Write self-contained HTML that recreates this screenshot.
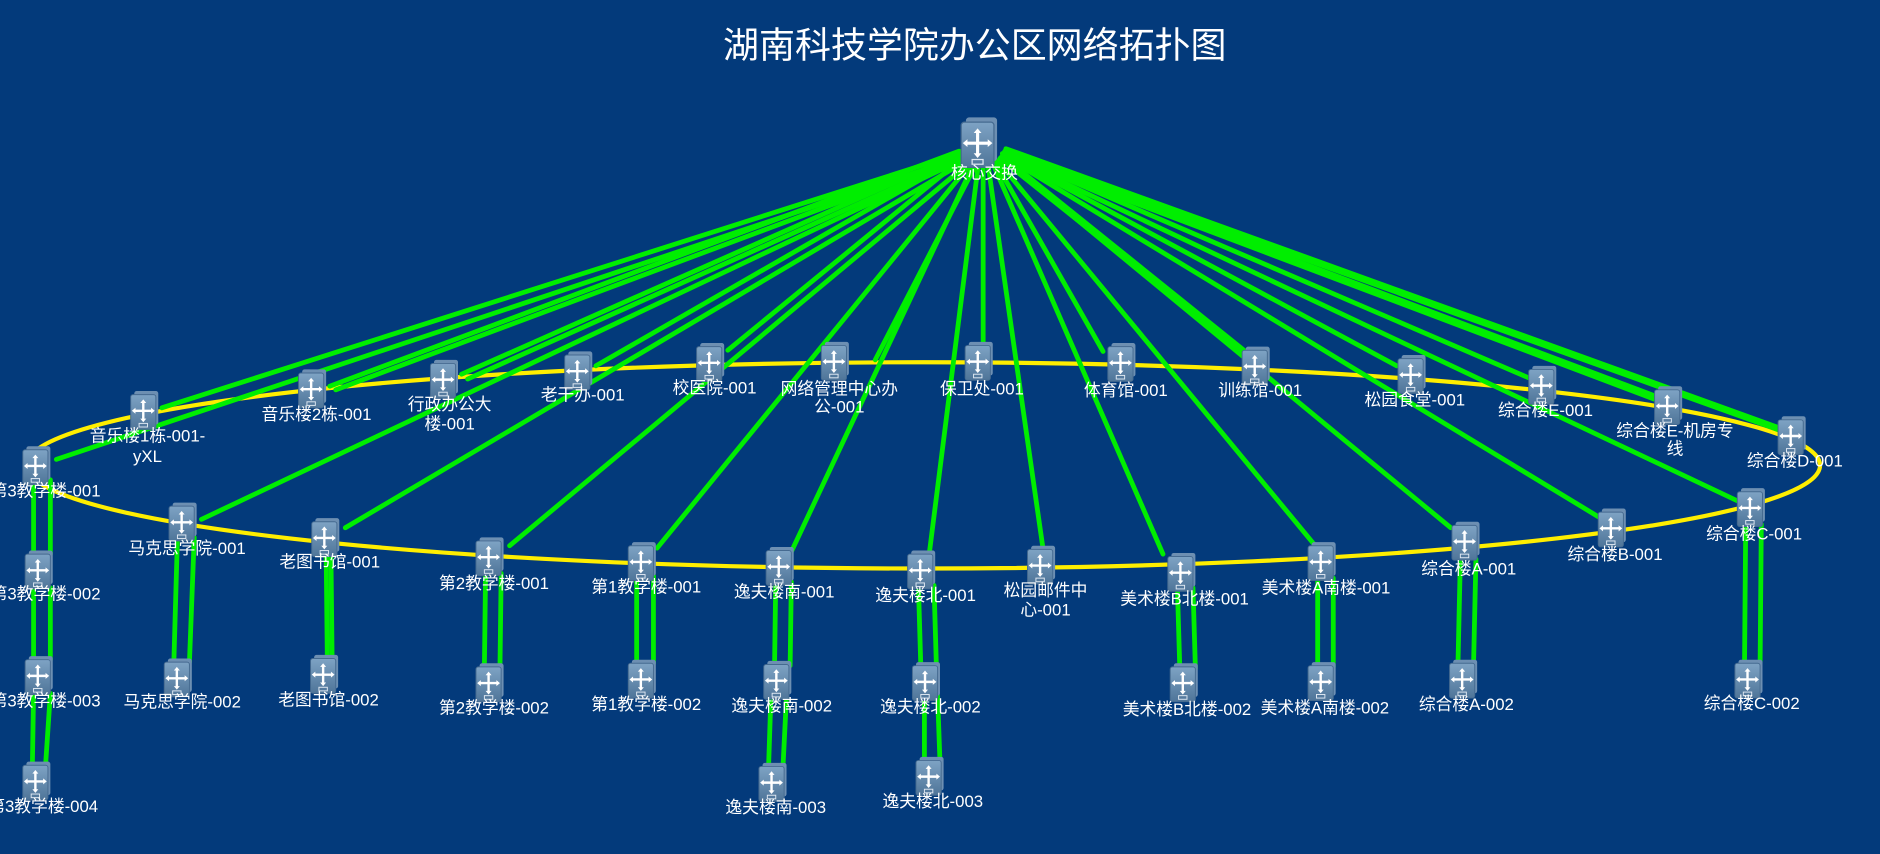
<!DOCTYPE html>
<html><head><meta charset="utf-8"><style>
html,body{margin:0;padding:0;background:#033a7b;overflow:hidden}
svg{display:block}
text{font-family:"Liberation Sans","Noto Sans CJK SC",sans-serif;fill:#fff;font-size:14px;text-anchor:middle}
</style></head><body>
<svg width="1880" height="854" viewBox="0 0 1568 712" preserveAspectRatio="none" xmlns="http://www.w3.org/2000/svg">
<defs>
<linearGradient id="g" x1="0" y1="0" x2="0" y2="1"><stop offset="0" stop-color="#7ea3c4"/><stop offset="1" stop-color="#4f7599"/></linearGradient>
<g id="sw">
<rect x="-8" y="-17" width="20" height="28" rx="2" fill="#6d8fb2"/>
<rect x="-11" y="-14" width="21" height="29" rx="2" fill="url(#g)" stroke="#456a90" stroke-width="0.8"/>
<path d="M-0.5 -10 L-3 -7 L-1.5 -7 L-1.5 -1.5 L-7 -1.5 L-7 -3 L-10 -0.5 L-7 2 L-7 0.5 L-1.5 0.5 L-1.5 6 L-3 6 L-0.5 9 L2 6 L0.5 6 L0.5 0.5 L6 0.5 L6 2 L9 -0.5 L6 -3 L6 -1.5 L0.5 -1.5 L0.5 -7 L2 -7 Z" fill="#fff"/>
<rect x="-4" y="10" width="7" height="3" fill="none" stroke="#dfe8f2" stroke-width="0.8"/>
</g>
</defs>
<text x="813" y="48" style="font-size:30px">湖南科技学院办公区网络拓扑图</text>
<ellipse cx="770" cy="388" rx="748" ry="86" fill="none" stroke="#ffee00" stroke-width="3.5"/>
<g stroke="#00ee00" stroke-width="4" stroke-linecap="round" fill="none">
<!-- core links -->
<line x1="800" y1="128" x2="135" y2="340"/><line x1="802" y1="131" x2="47" y2="383"/>
<line x1="800" y1="126" x2="275" y2="322"/><line x1="803" y1="130" x2="280" y2="325"/>
<line x1="801" y1="128" x2="385" y2="312"/><line x1="803" y1="131" x2="390" y2="316"/>
<line x1="802" y1="130" x2="497" y2="305"/>
<line x1="804" y1="131" x2="607" y2="292"/>
<line x1="805" y1="132" x2="168" y2="433"/>
<line x1="806" y1="134" x2="288" y2="440"/>
<line x1="808" y1="136" x2="425" y2="455"/>
<line x1="810" y1="136" x2="548" y2="457"/>
<line x1="812" y1="137" x2="660" y2="460"/>
<line x1="814" y1="137" x2="730" y2="300"/>
<line x1="816" y1="137" x2="775" y2="462"/>
<line x1="820" y1="137" x2="820" y2="290"/>
<line x1="824" y1="137" x2="870" y2="458"/>
<line x1="828" y1="136" x2="970" y2="462"/>
<line x1="830" y1="135" x2="920" y2="293"/>
<line x1="832" y1="134" x2="1097" y2="455"/>
<line x1="834" y1="132" x2="1040" y2="296"/><line x1="836" y1="130" x2="1045" y2="298"/>
<line x1="835" y1="131" x2="1210" y2="440"/>
<line x1="836" y1="128" x2="1165" y2="305"/>
<line x1="837" y1="130" x2="1335" y2="432"/>
<line x1="838" y1="127" x2="1275" y2="315"/>
<line x1="838" y1="129" x2="1450" y2="418"/>
<line x1="838" y1="126" x2="1380" y2="330"/><line x1="840" y1="129" x2="1383" y2="334"/>
<line x1="839" y1="124" x2="1482" y2="356"/><line x1="841" y1="127" x2="1485" y2="359"/>
<!-- children -->
<line x1="28" y1="400" x2="28" y2="462"/><line x1="42" y1="400" x2="42" y2="462"/>
<line x1="28" y1="490" x2="28" y2="550"/><line x1="42" y1="490" x2="42" y2="550"/>
<line x1="28" y1="578" x2="27" y2="638"/><line x1="42" y1="578" x2="38" y2="638"/>
<line x1="148" y1="448" x2="145" y2="552"/><line x1="162" y1="448" x2="158" y2="552"/>
<line x1="272" y1="460" x2="273" y2="550"/><line x1="276" y1="460" x2="277" y2="550"/>
<line x1="405" y1="478" x2="404" y2="556"/><line x1="418" y1="478" x2="417" y2="556"/>
<line x1="531" y1="480" x2="531" y2="553"/><line x1="545" y1="480" x2="545" y2="553"/>
<line x1="647" y1="485" x2="646" y2="555"/><line x1="660" y1="485" x2="659" y2="555"/>
<line x1="643" y1="580" x2="641" y2="640"/><line x1="656" y1="580" x2="653" y2="640"/>
<line x1="766" y1="488" x2="768" y2="556"/><line x1="779" y1="488" x2="781" y2="556"/>
<line x1="771" y1="580" x2="771" y2="636"/><line x1="782" y1="580" x2="784" y2="636"/>
<line x1="982" y1="490" x2="984" y2="557"/><line x1="995" y1="490" x2="997" y2="557"/>
<line x1="1099" y1="482" x2="1099" y2="556"/><line x1="1112" y1="482" x2="1112" y2="556"/>
<line x1="1218" y1="466" x2="1216" y2="554"/><line x1="1231" y1="466" x2="1229" y2="554"/>
<line x1="1456" y1="437" x2="1455" y2="554"/><line x1="1469" y1="437" x2="1468" y2="554"/>
</g>
<!-- core -->
<g transform="translate(816,120) scale(1.3)"><use href="#sw"/></g>
<text x="821" y="149">核心交换</text>
<g>
<use href="#sw" x="120" y="343"/><text x="123" y="368">音乐楼1栋-001-</text><text x="123" y="385">yXL</text>
<use href="#sw" x="260" y="325"/><text x="264" y="350">音乐楼2栋-001</text>
<use href="#sw" x="370" y="317"/><text x="375" y="342">行政办公大</text><text x="375" y="358">楼-001</text>
<use href="#sw" x="482" y="310"/><text x="486" y="334">老干办-001</text>
<use href="#sw" x="592" y="303"/><text x="596" y="328">校医院-001</text>
<use href="#sw" x="696" y="302"/><text x="700" y="329">网络管理中心办</text><text x="700" y="344">公-001</text>
<use href="#sw" x="816" y="302"/><text x="819" y="329">保卫处-001</text>
<use href="#sw" x="935" y="303"/><text x="939" y="330">体育馆-001</text>
<use href="#sw" x="1047" y="306"/><text x="1051" y="330">训练馆-001</text>
<use href="#sw" x="1177" y="313"/><text x="1180" y="338">松园食堂-001</text>
<use href="#sw" x="1286" y="322"/><text x="1289" y="347">综合楼E-001</text>
<use href="#sw" x="1391" y="339"/><text x="1397" y="364">综合楼E-机房专</text><text x="1397" y="379">线</text>
<use href="#sw" x="1494" y="364"/><text x="1497" y="389">综合楼D-001</text>

<use href="#sw" x="30" y="389"/><text x="38" y="414">第3教学楼-001</text>
<use href="#sw" x="152" y="436"/><text x="156" y="462">马克思学院-001</text>
<use href="#sw" x="271" y="449"/><text x="275" y="473">老图书馆-001</text>
<use href="#sw" x="408" y="465"/><text x="412" y="491">第2教学楼-001</text>
<use href="#sw" x="535" y="469"/><text x="539" y="494">第1教学楼-001</text>
<use href="#sw" x="650" y="473"/><text x="654" y="498">逸夫楼南-001</text>
<use href="#sw" x="768" y="476"/><text x="772" y="501">逸夫楼北-001</text>
<use href="#sw" x="868" y="472"/><text x="872" y="497">松园邮件中</text><text x="872" y="513">心-001</text>
<use href="#sw" x="985" y="478"/><text x="988" y="504">美术楼B北楼-001</text>
<use href="#sw" x="1102" y="469"/><text x="1106" y="495">美术楼A南楼-001</text>
<use href="#sw" x="1222" y="452"/><text x="1225" y="479">综合楼A-001</text>
<use href="#sw" x="1344" y="441"/><text x="1347" y="467">综合楼B-001</text>
<use href="#sw" x="1460" y="424"/><text x="1463" y="450">综合楼C-001</text>

<use href="#sw" x="32" y="476"/><text x="38" y="500">第3教学楼-002</text>
<use href="#sw" x="32" y="564"/><text x="38" y="589">第3教学楼-003</text>
<use href="#sw" x="30" y="652"/><text x="36" y="677">第3教学楼-004</text>
<use href="#sw" x="148" y="566"/><text x="152" y="590">马克思学院-002</text>
<use href="#sw" x="270" y="563"/><text x="274" y="588">老图书馆-002</text>
<use href="#sw" x="408" y="570"/><text x="412" y="595">第2教学楼-002</text>
<use href="#sw" x="535" y="567"/><text x="539" y="592">第1教学楼-002</text>
<use href="#sw" x="648" y="568"/><text x="652" y="593">逸夫楼南-002</text>
<use href="#sw" x="644" y="653"/><text x="647" y="678">逸夫楼南-003</text>
<use href="#sw" x="772" y="569"/><text x="776" y="594">逸夫楼北-002</text>
<use href="#sw" x="775" y="648"/><text x="778" y="673">逸夫楼北-003</text>
<use href="#sw" x="987" y="570"/><text x="990" y="596">美术楼B北楼-002</text>
<use href="#sw" x="1102" y="569"/><text x="1105" y="595">美术楼A南楼-002</text>
<use href="#sw" x="1220" y="567"/><text x="1223" y="592">综合楼A-002</text>
<use href="#sw" x="1458" y="567"/><text x="1461" y="591">综合楼C-002</text>
</g>
</svg>
</body></html>
